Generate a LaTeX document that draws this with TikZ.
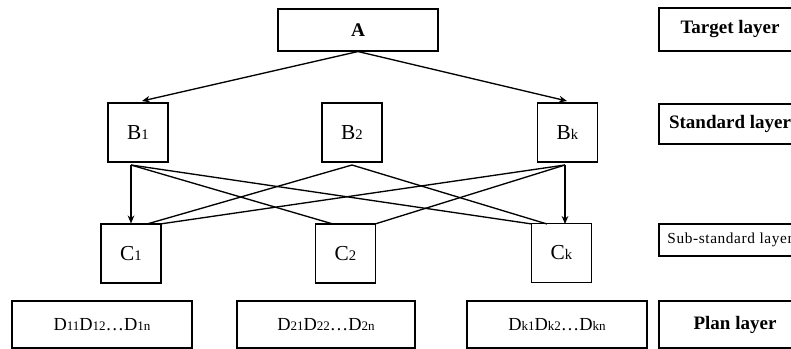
\documentclass[tikz,border=0pt]{standalone}
\usepackage{fontspec}
\setmainfont{Liberation Serif}
\usetikzlibrary{arrows.meta}
\newdimen\pxu \pxu=0.75pt
\newcommand{\bsub}[1]{{\fontsize{11}{11}\selectfont #1}}
\newcommand{\dsub}[1]{{\fontsize{9.8}{10}\selectfont #1}}
\begin{document}
\begin{tikzpicture}[x=0.75pt,y=-0.75pt,
  box/.style={draw, line width=0.8pt, inner sep=0pt},
  letter/.style={box, minimum width=60\pxu, minimum height=59\pxu, font=\fontsize{16}{18}\selectfont},
  dbox/.style={box, minimum height=47\pxu, font=\fontsize{13.8}{15}\selectfont},
  layer/.style={box, minimum width=142\pxu, font=\fontsize{14.25}{16}\selectfont\bfseries},
  conn/.style={line width=1pt},
  arr/.style={conn, -{Stealth[length=6pt,width=5pt]}}]
\useasboundingbox (0,0) rectangle (791,349);
\clip (0,0) rectangle (791,349);
% top
\node[box, minimum width=160\pxu, minimum height=42\pxu, font=\fontsize{14.5}{16}\selectfont\bfseries] (A) at (358,30) {A};
% B layer
\node[letter] (B1) at (138,132.5) {B\bsub{1}};
\node[letter] (B2) at (352,132.5) {B\bsub{2}};
\node[letter] (Bk) at (567.5,132.5) {B\bsub{k}};
% C layer
\node[letter] (C1) at (131,253.5) {C\bsub{1}};
\node[letter] (C2) at (345.5,253.5) {C\bsub{2}};
\node[letter] (Ck) at (561.5,253) {C\bsub{k}};
% D layer
\node[dbox, minimum width=180\pxu] (D1) at (102,324.5) {D\dsub{11}D\dsub{12}…D\dsub{1n}};
\node[dbox, minimum width=178\pxu] (D2) at (326,324.5) {D\dsub{21}D\dsub{22}…D\dsub{2n}};
\node[dbox, minimum width=180\pxu] (Dk) at (557,324.5) {D\dsub{k1}D\dsub{k2}…D\dsub{kn}};
% layer labels
\node[layer, minimum height=43\pxu] (TL) at (730,29.5) {Target layer};
\node[layer, minimum height=40\pxu] (SL) at (730,124) {Standard layer};
\node[layer, minimum height=32\pxu, font=\fontsize{11.5}{13}\selectfont\addfontfeature{LetterSpace=4}] (SSL) at (730,240) {Sub-standard layer};
\node[layer, minimum width=152\pxu, minimum height=47\pxu] (PL) at (735,324.5) {Plan layer};
% connector end points
\coordinate (b1t) at (142,101);
\coordinate (bkt) at (567,101);
\coordinate (b1o) at (131,165);
\coordinate (b2o) at (352,165);
\coordinate (bko) at (565,165);
\coordinate (c1m) at (147,224);
\coordinate (c1r) at (160,224);
\coordinate (c2l) at (333,224);
\coordinate (c2r) at (375,224);
\coordinate (ckl) at (532,224);
\coordinate (ckm) at (547,224);
\coordinate (ckt) at (565,224);
% A to B
\draw[arr] (A.south) -- (b1t);
\draw[arr] (A.south) -- (bkt);
% B to C
\draw[arr] (b1o) -- (C1.north);
\draw[conn] (b1o) -- (c2l);
\draw[conn] (b1o) -- (ckl);
\draw[conn] (b2o) -- (c1m);
\draw[conn] (b2o) -- (ckm);
\draw[arr] (bko) -- (ckt);
\draw[conn] (bko) -- (c1r);
\draw[conn] (bko) -- (c2r);
\end{tikzpicture}
\end{document}
